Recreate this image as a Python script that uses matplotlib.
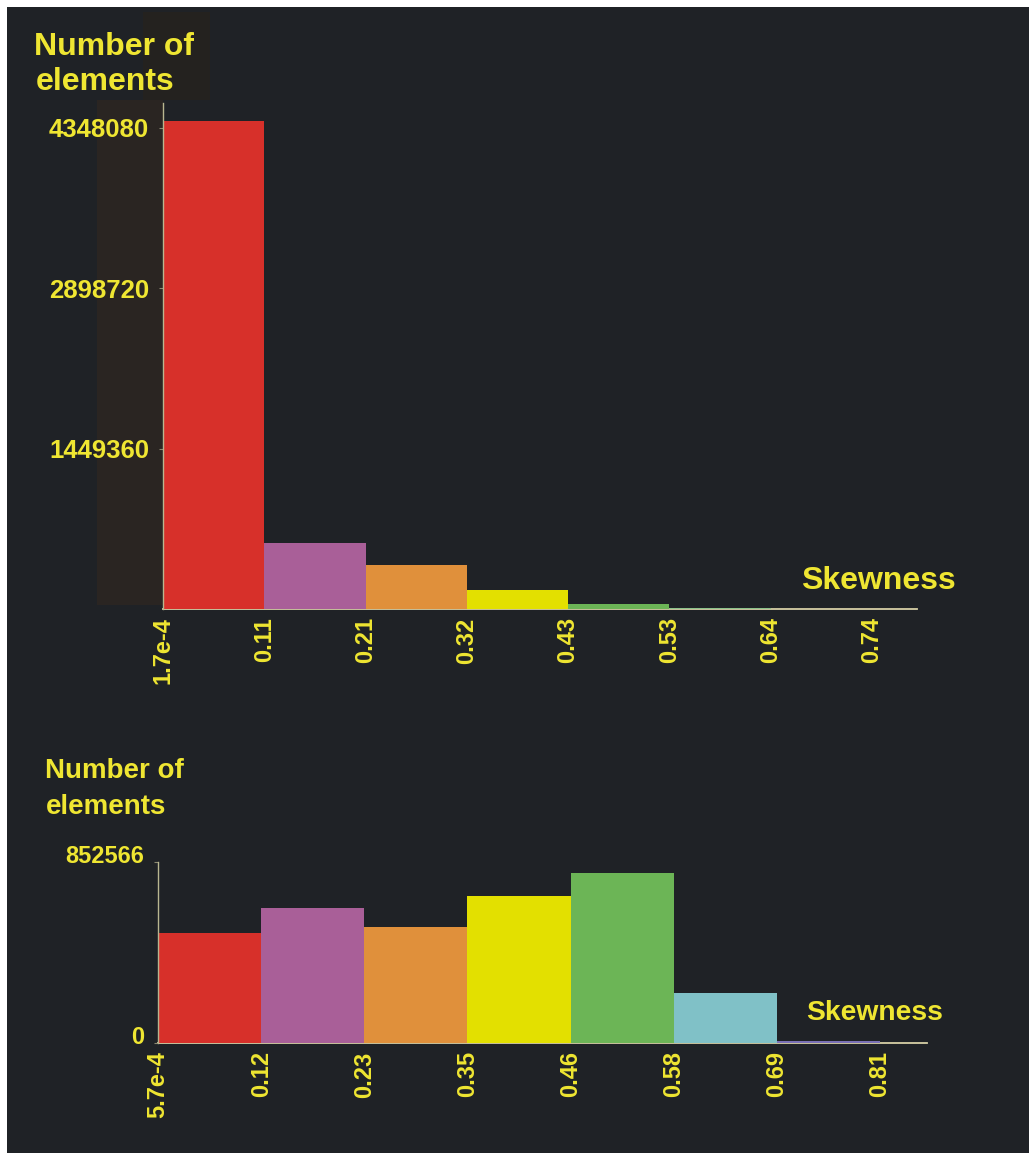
import matplotlib
matplotlib.use("Agg")
import matplotlib.pyplot as plt
from matplotlib.patches import Rectangle
from matplotlib.transforms import ScaledTranslation

# ---------------- data ----------------
top_edges = [0.00017, 0.1065, 0.2128, 0.3191, 0.4254, 0.5317, 0.6380, 0.7443]
top_labels = ["1.7e-4", "0.11", "0.21", "0.32", "0.43", "0.53", "0.64", "0.74"]
top_counts = [4410000, 597000, 398000, 172000, 42000, 12000, 3000]
top_colors = ["#d7302a", "#a95f98", "#e0903b", "#e3e000", "#6cb556", "#8cc28a", "#b0ae98"]
top_yticks = [1449360, 2898720, 4348080]

bot_edges = [0.00057, 0.1161, 0.2316, 0.3471, 0.4626, 0.5781, 0.6936, 0.8091]
bot_labels = ["5.7e-4", "0.12", "0.23", "0.35", "0.46", "0.58", "0.69", "0.81"]
bot_counts = [516000, 635000, 545000, 692000, 800000, 237000, 8000]
bot_colors = ["#d7302a", "#a95f98", "#e0903b", "#e3e000", "#6cb556", "#80c1c7", "#7a70b5"]
bot_yticks = [0, 852566]

# ---------------- style ----------------
W, H = 1029, 1153
BG = "#1f2226"
YEL = "#efe632"
FONT = ["Liberation Sans", "DejaVu Sans"]
plt.rcParams["font.family"] = FONT
plt.rcParams["font.weight"] = "bold"

fig = plt.figure(figsize=(W / 100, H / 100), dpi=100, facecolor=BG)

def fig_rect(x0, y0, x1, y1, color, z):
    fig.patches.append(Rectangle((x0 / W, 1 - y1 / H), (x1 - x0) / W, (y1 - y0) / H,
                                 transform=fig.transFigure, facecolor=color,
                                 edgecolor="none", zorder=z))

# white page edge and subtle panels
fig_rect(0, 0, W, 7, "white", 5)
fig_rect(0, 0, 7, H, "white", 5)
fig_rect(97, 100, 163, 605, "#2a2522", -5)
fig_rect(143, 12, 210, 100, "#24221f", -5)


def px_axes(x0, y0, x1, y1):
    ax = fig.add_axes([x0 / W, 1 - y1 / H, (x1 - x0) / W, (y1 - y0) / H])
    ax.set_facecolor("none")
    return ax


def draw(ax, edges, counts, colors, labels, yticks, xmax, ymax, yshift, yfs):
    widths = [edges[i + 1] - edges[i] for i in range(len(counts))]
    ax.bar(edges[:len(counts)], counts, width=widths, align="edge",
           color=colors, edgecolor="none", zorder=2)
    ax.set_xlim(edges[0], xmax)
    ax.set_ylim(0, ymax)
    for s in ["top", "right"]:
        ax.spines[s].set_visible(False)
    ax.spines["left"].set_color("#b8b690")
    ax.spines["left"].set_linewidth(1.0)
    ax.spines["bottom"].set_color("#d6cfa6")
    ax.spines["bottom"].set_linewidth(1.3)
    ax.spines["bottom"].set_zorder(1)
    ax.set_xticks(edges)
    ax.set_xticklabels(labels, rotation=90, color=YEL, fontsize=17,
                       fontweight="bold", va="top", ha="center")
    ax.tick_params(axis="x", length=0, pad=6)
    ax.set_yticks(yticks)
    ax.set_yticklabels([str(v) for v in yticks], color=YEL, fontsize=yfs,
                       fontweight="bold")
    ax.tick_params(axis="y", length=3, color="#8a8870", pad=7)
    if yshift:
        off = ScaledTranslation(0, yshift / 100, fig.dpi_scale_trans)
        for lbl in ax.get_yticklabels():
            lbl.set_transform(lbl.get_transform() + off)


ax1 = px_axes(163, 103, 917, 609)
draw(ax1, top_edges, top_counts, top_colors, top_labels, top_yticks,
     0.7916, 4574000, 0, 18.5)

ax2 = px_axes(158, 862, 927, 1043)
draw(ax2, bot_edges, bot_counts, bot_colors, bot_labels, bot_yticks,
     0.8619, 852566, 8, 17)

# titles (positioned by baseline in pixels)
def ftext(x, y, s, fs):
    fig.text(x / W, 1 - y / H, s, color=YEL, fontsize=fs, fontweight="bold",
             va="baseline", ha="left")

ftext(34, 55, "Number of", 23)
ftext(36, 90, "elements", 23)
ftext(45, 778, "Number of", 20)
ftext(46, 814, "elements", 20)
ftext(801, 589, "Skewness", 23)
ftext(806, 1020, "Skewness", 20.3)

fig.savefig("out.png", dpi=100, facecolor=BG)
